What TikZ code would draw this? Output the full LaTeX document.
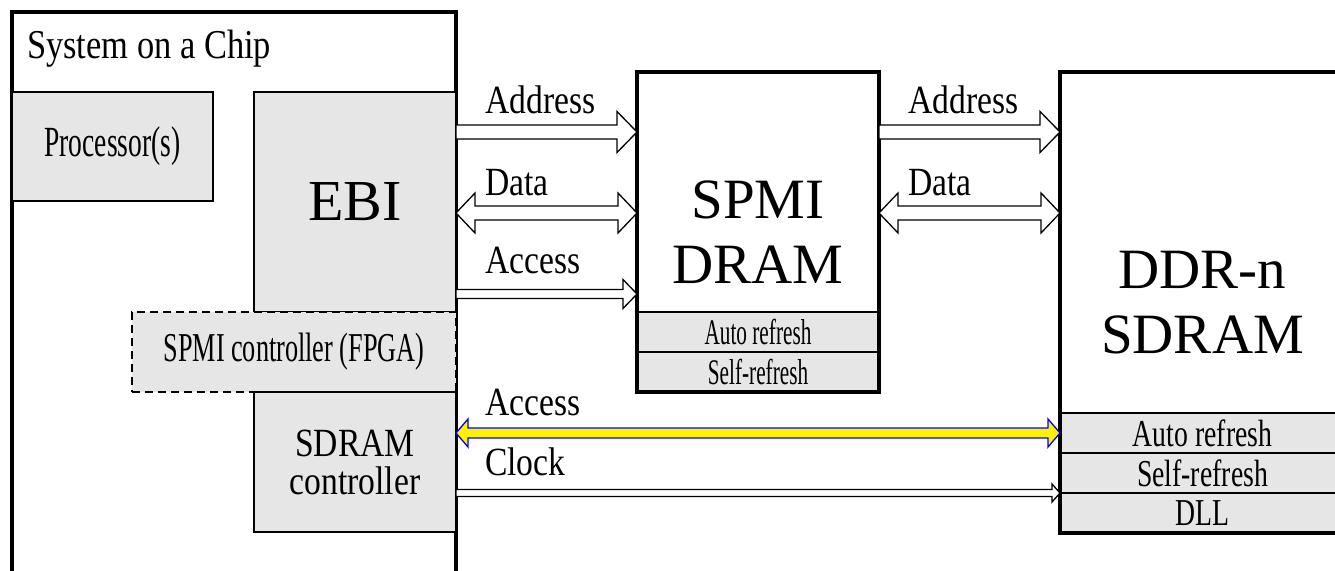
\documentclass[tikz,border=0pt]{standalone}
\usepackage{fontspec}
\setmainfont{Liberation Serif}
\newfontfamily\lblfont[FakeStretch=0.84]{Liberation Serif}
\newfontfamily\midfont[FakeStretch=0.73]{Liberation Serif}
\newfontfamily\narfont[FakeStretch=0.64]{Liberation Serif}
\newfontfamily\sqzfont[FakeStretch=0.59]{Liberation Serif}
\usetikzlibrary{calc,positioning}
\definecolor{boxgray}{RGB}{230,230,230}
\newcommand{\fsz}[2]{\fontsize{#1}{#2}\selectfont}
\newcommand{\busarrow}[6][]{%
  \draw[#1] let \p1=(#2), \p2=(#3) in
    (\x1,\y1+#4pt) -- (\x2-#6pt,\y1+#4pt) -- (\x2-#6pt,\y1+#5pt) -- (\x2,\y1)
    -- (\x2-#6pt,\y1-#5pt) -- (\x2-#6pt,\y1-#4pt) -- (\x1,\y1-#4pt) -- cycle;}
\newcommand{\dbusarrow}[6][]{%
  \draw[#1] let \p1=(#2), \p2=(#3) in
    (\x1,\y1) -- (\x1+#6pt,\y1+#5pt) -- (\x1+#6pt,\y1+#4pt) -- (\x2-#6pt,\y1+#4pt)
    -- (\x2-#6pt,\y1+#5pt) -- (\x2,\y1) -- (\x2-#6pt,\y1-#5pt) -- (\x2-#6pt,\y1-#4pt)
    -- (\x1+#6pt,\y1-#4pt) -- (\x1+#6pt,\y1-#5pt) -- cycle;}

\begin{document}
\begin{tikzpicture}[x=1pt, y=-1pt,
  heavy/.style={line width=3.5pt},
  inbox/.style={rectangle, draw, fill=boxgray, line width=1.2pt, inner sep=0pt, outer sep=0pt},
  membox/.style={rectangle, fill=white, inner sep=0pt, outer sep=0pt, align=center, font=\fsz{57}{65}},
  memrow/.style={rectangle, draw, fill=boxgray, line width=1.2pt, inner sep=0pt, outer sep=0pt,
    minimum width=#1, minimum height=40pt},
  lbl/.style={anchor=base west, inner sep=0pt, font=\lblfont\fsz{40}{40}},
  bus/.style={draw, fill=white, line width=1.3pt},
  hotbus/.style={draw=blue, fill=yellow, line width=1.3pt}]
\useasboundingbox (0,0) rectangle (1335,570);
\clip (0,0) rectangle (1335,570);

\draw[heavy] (12,580) -- (12,12) -- (456,12) -- (456,580);
\node[lbl, font=\lblfont\fsz{41}{41}] (soc) at (27,58) {System on a Chip};
\node[inbox, minimum width=201pt, minimum height=109pt, anchor=north west,
  font=\narfont\fsz{43}{43}] (proc) at (12,92) {Processor(s)};
\node[inbox, minimum width=202pt, minimum height=220pt, anchor=north west,
  font=\fsz{58}{60}] (ebi) at (254,92) {EBI};
\node[inbox, dash pattern=on 8pt off 5pt, minimum width=324pt, minimum height=80pt,
  anchor=north east, font=\narfont\fsz{41}{41}] (spmictl) at (ebi.south east) {SPMI controller (FPGA)};
\node[inbox, minimum width=202pt, minimum height=140pt, anchor=north east, align=center,
  font=\lblfont\fsz{40}{38}] (sdramc) at (spmictl.south east) {SDRAM\\controller};

\node[membox, minimum width=242pt, minimum height=320pt, anchor=north west] (spmi) at (637,72) {SPMI\\DRAM};
\node[memrow=242pt, above=0pt of spmi.south, font=\sqzfont\fsz{36}{36}] (spmiself) {Self-refresh};
\node[memrow=242pt, above=0pt of spmiself, font=\sqzfont\fsz{36}{36}] (spmiauto) {Auto refresh};
\draw[heavy] (spmi.north west) rectangle (spmi.south east);

\node[membox, minimum width=285pt, minimum height=461pt, anchor=north west] (ddr) at (1060,72) {DDR-n\\SDRAM};
\node[memrow=285pt, above=0pt of ddr.south, font=\midfont\fsz{38}{38}] (dll) {DLL};
\node[memrow=285pt, above=0pt of dll, font=\midfont\fsz{38}{38}] (ddrself) {Self-refresh};
\node[memrow=285pt, above=0pt of ddrself, font=\midfont\fsz{38}{38}] (ddrauto) {Auto refresh};
\draw[heavy] (ddr.north west) rectangle (ddr.south east);

\coordinate (yaddr) at (0,132);
\coordinate (ydata) at (0,213);
\coordinate (yacc) at (0,294);
\coordinate (ybus) at (0,433);
\coordinate (yclk) at (0,493);

\busarrow[bus]{ebi.east |- yaddr}{spmi.west |- yaddr}{7}{20.5}{20}
\dbusarrow[bus]{ebi.east |- ydata}{spmi.west |- ydata}{7}{20}{19}
\busarrow[bus]{ebi.east |- yacc}{spmi.west |- yacc}{4.5}{14.5}{14}
\busarrow[bus]{spmi.east |- yaddr}{ddr.west |- yaddr}{7}{20.5}{20}
\dbusarrow[bus]{spmi.east |- ydata}{ddr.west |- ydata}{7}{20}{19}
\dbusarrow[hotbus]{sdramc.east |- ybus}{ddr.west |- ybus}{5}{14}{12}
\busarrow[bus]{sdramc.east |- yclk}{ddr.west |- yclk}{3.5}{9}{8}

\node[lbl] (addr1) at (485,113) {Address};
\node[lbl] (data1) at (485,195) {Data};
\node[lbl] (acc1) at (485,273) {Access};
\node[lbl] (addr2) at (908,113) {Address};
\node[lbl] (data2) at (908,195) {Data};
\node[lbl] (acc2) at (485,415) {Access};
\node[lbl] (clk) at (485,475) {Clock};
\end{tikzpicture}
\end{document}
